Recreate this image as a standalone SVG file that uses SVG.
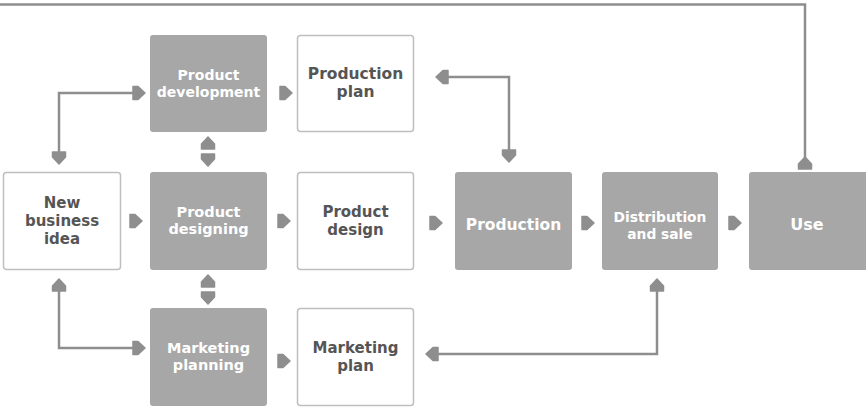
<svg xmlns="http://www.w3.org/2000/svg" width="866" height="416" viewBox="0 0 866 416">
<style>
.g{fill:#a7a7a7;}
.w{fill:#ffffff;stroke:#bfbfbf;stroke-width:1.5;}
text{font-family:"DejaVu Sans",Roboto,sans-serif;font-weight:700;text-anchor:middle;}
.tw{fill:#ffffff;}
.td{fill:#555555;}
.ln{fill:none;stroke:#8e8e8e;stroke-width:2.5;stroke-linejoin:miter;}
.ah{fill:#8e8e8e;stroke:#8e8e8e;stroke-width:1.5;stroke-linejoin:round;}
</style>
<defs>
<path id="ar" d="M-6,-6.5 L-1,-6.5 L6,0 L-1,6.5 L-6,6.5 Z"/>
</defs>
<rect width="866" height="416" fill="#ffffff"/>

<g id="new-business-idea">
<rect class="w" x="3.5" y="172.5" width="117" height="97" rx="3"/>
<text class="td" font-size="15" x="62" y="208">New</text>
<text class="td" font-size="15" x="62" y="226">business</text>
<text class="td" font-size="15" x="62" y="244">idea</text>
</g>
<g id="product-development">
<rect class="g" x="150" y="35" width="117" height="97" rx="3"/>
<text class="tw" font-size="14" x="208.5" y="80">Product</text>
<text class="tw" font-size="14" x="208.5" y="96.5">development</text>
</g>
<g id="production-plan">
<rect class="w" x="297.5" y="35.5" width="116" height="96" rx="3"/>
<text class="td" font-size="15.5" x="355.5" y="79">Production</text>
<text class="td" font-size="15.5" x="355.5" y="97">plan</text>
</g>
<g id="product-designing">
<rect class="g" x="150" y="172" width="117" height="98" rx="3"/>
<text class="tw" font-size="14.5" x="208.5" y="217">Product</text>
<text class="tw" font-size="14.5" x="208.5" y="234">designing</text>
</g>
<g id="product-design">
<rect class="w" x="297.5" y="172.5" width="116" height="97" rx="3"/>
<text class="td" font-size="15" x="355.5" y="217">Product</text>
<text class="td" font-size="15" x="355.5" y="234.5">design</text>
</g>
<g id="production">
<rect class="g" x="455" y="172" width="117" height="98" rx="3"/>
<text class="tw" font-size="15.5" x="513.5" y="230">Production</text>
</g>
<g id="distribution-and-sale">
<rect class="g" x="602" y="172" width="116" height="98" rx="3"/>
<text class="tw" font-size="13.8" x="660" y="222">Distribution</text>
<text class="tw" font-size="13.8" x="660" y="238.5">and sale</text>
</g>
<g id="use">
<rect class="g" x="749" y="172" width="120" height="98" rx="3"/>
<text class="tw" font-size="16" x="807" y="230">Use</text>
</g>
<g id="marketing-planning">
<rect class="g" x="150" y="308" width="117" height="98" rx="3"/>
<text class="tw" font-size="14.5" x="208.5" y="353">Marketing</text>
<text class="tw" font-size="14.5" x="208.5" y="370">planning</text>
</g>
<g id="marketing-plan">
<rect class="w" x="297.5" y="308.5" width="116" height="97" rx="3"/>
<text class="td" font-size="15" x="355.5" y="353">Marketing</text>
<text class="td" font-size="15" x="355.5" y="370.5">plan</text>
</g>

<g id="connectors">
<!-- feedback loop from Use -->
<polyline class="ln" points="-5,4.5 805,4.5 805,160"/>
<use href="#ar" class="ah" transform="translate(805,163) rotate(-90)"/>
<!-- New business idea <-> Product development -->
<polyline class="ln" points="59,152 59,93 134,93"/>
<use href="#ar" class="ah" transform="translate(59,158) rotate(90)"/>
<use href="#ar" class="ah" transform="translate(139,93)"/>
<!-- New business idea <-> Marketing planning -->
<polyline class="ln" points="59,290 59,348 134,348"/>
<use href="#ar" class="ah" transform="translate(59,285) rotate(-90)"/>
<use href="#ar" class="ah" transform="translate(139,348)"/>
<!-- Production plan <-> Production -->
<polyline class="ln" points="445,77 509,77 509,150"/>
<use href="#ar" class="ah" transform="translate(442,77) rotate(180)"/>
<use href="#ar" class="ah" transform="translate(509,156) rotate(90)"/>
<!-- Marketing plan <-> Distribution -->
<polyline class="ln" points="436,354 657,354 657,290"/>
<use href="#ar" class="ah" transform="translate(432,354) rotate(180)"/>
<use href="#ar" class="ah" transform="translate(657,285) rotate(-90)"/>
<!-- double arrows between column boxes -->
<use href="#ar" class="ah" transform="translate(208,143) rotate(-90)"/>
<use href="#ar" class="ah" transform="translate(208,160) rotate(90)"/>
<use href="#ar" class="ah" transform="translate(208,281) rotate(-90)"/>
<use href="#ar" class="ah" transform="translate(208,298) rotate(90)"/>
<!-- flow arrows -->
<use href="#ar" class="ah" transform="translate(286,93)"/>
<use href="#ar" class="ah" transform="translate(136,221)"/>
<use href="#ar" class="ah" transform="translate(284,221)"/>
<use href="#ar" class="ah" transform="translate(436,223)"/>
<use href="#ar" class="ah" transform="translate(588,223)"/>
<use href="#ar" class="ah" transform="translate(735,223)"/>
<use href="#ar" class="ah" transform="translate(284,361)"/>
</g>
</svg>
